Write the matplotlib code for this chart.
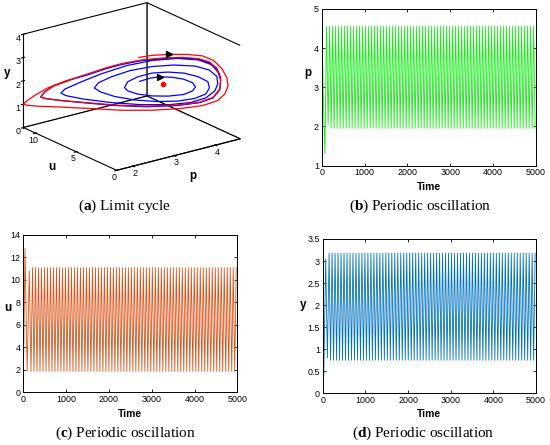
import matplotlib
matplotlib.use('Agg')
import matplotlib.pyplot as plt
import numpy as np

plt.rcParams['font.family'] = ['Liberation Sans', 'DejaVu Sans']
plt.rcParams['mathtext.fontset'] = 'custom'
plt.rcParams['mathtext.rm'] = 'Liberation Serif'
plt.rcParams['mathtext.bf'] = 'Liberation Serif:bold'

# ---------------- data: 3D phase portrait (p, u, y) ----------------
blue_p = [3.36, 3.51, 3.65, 3.83, 3.99, 4.12, 4.16, 4.12, 3.99, 3.77, 3.54, 3.33, 3.19, 3.14, 3.19, 3.33,
          3.54, 3.77, 4.00, 4.20, 4.34, 4.36, 4.31, 4.15, 3.90, 3.61, 3.29, 3.00, 2.80, 2.71, 2.77, 2.96,
          3.22, 3.54, 3.86, 4.16, 4.36, 4.47, 4.48, 4.44, 4.31, 4.09, 3.80, 3.39, 2.96, 2.55, 2.30, 2.23,
          2.29, 2.52, 2.81, 3.17, 3.54, 3.90, 4.20, 4.39, 4.49, 4.52, 4.51, 4.41, 4.22, 3.90, 3.46, 3.03,
          2.62, 2.23, 2.01, 1.94, 2.00, 2.13, 2.37, 2.62, 2.88, 3.10, 3.39, 3.68, 3.97, 4.20, 4.36, 4.47, 4.52]
blue_u = [6.09, 5.58, 5.07, 4.46, 3.90, 3.44, 3.28, 3.44, 3.90, 4.66, 5.48, 6.19, 6.71, 6.86, 6.71, 6.19,
          5.48, 4.66, 3.84, 3.13, 2.67, 2.57, 2.77, 3.33, 4.20, 5.22, 6.35, 7.37, 8.09, 8.39, 8.19, 7.52,
          6.60, 5.48, 4.36, 3.28, 2.57, 2.21, 2.16, 2.31, 2.77, 3.54, 4.56, 5.99, 7.52, 8.95, 9.82, 10.08,
          9.87, 9.06, 8.03, 6.76, 5.48, 4.20, 3.13, 2.46, 2.11, 2.00, 2.06, 2.41, 3.08, 4.20, 5.74, 7.27,
          8.70, 10.08, 10.85, 11.10, 10.90, 10.44, 9.57, 8.70, 7.78, 7.01, 5.99, 4.97, 3.95, 3.13, 2.57, 2.21, 2.00]
blue_y = [2.05, 2.20, 2.28, 2.27, 2.21, 2.07, 1.90, 1.72, 1.55, 1.46, 1.44, 1.50, 1.62, 1.76, 2.01, 2.24,
          2.42, 2.49, 2.47, 2.34, 2.14, 1.88, 1.61, 1.40, 1.26, 1.21, 1.24, 1.36, 1.53, 1.69, 1.92, 2.20,
          2.49, 2.70, 2.80, 2.79, 2.64, 2.37, 2.06, 1.76, 1.44, 1.22, 1.10, 1.05, 1.09, 1.20, 1.32, 1.42,
          1.60, 1.93, 2.31, 2.70, 2.96, 3.09, 3.06, 2.88, 2.54, 2.20, 1.81, 1.45, 1.23, 1.07, 0.97, 0.97,
          1.03, 1.10, 1.16, 1.22, 1.44, 1.72, 2.01, 2.25, 2.54, 2.74, 2.94, 3.06, 3.12, 3.10, 2.96, 2.72, 2.33]

red_p = [3.35, 3.54, 3.78, 4.04, 4.26, 4.42, 4.54, 4.61, 4.63, 4.58, 4.48, 4.26, 3.93, 3.54, 3.10, 2.67,
         2.23, 1.91, 1.65, 1.60, 1.65, 1.87, 2.04, 2.30, 2.62, 2.88, 3.10, 3.39, 3.68, 3.97, 4.20, 4.36,
         4.47, 4.52, 4.51, 4.41, 4.22, 3.90, 3.46, 3.03, 2.62, 2.23, 2.01, 1.94, 2.00, 2.13, 2.37]
red_u = [6.14, 5.48, 4.61, 3.69, 2.92, 2.36, 1.95, 1.70, 1.65, 1.80, 2.16, 2.92, 4.10, 5.48, 7.01, 8.55,
         10.08, 11.20, 11.40, 11.50, 11.40, 11.36, 10.74, 9.82, 8.70, 7.78, 7.01, 5.99, 4.97, 3.95, 3.13, 2.57,
         2.21, 2.00, 2.06, 2.41, 3.08, 4.20, 5.74, 7.27, 8.70, 10.08, 10.85, 11.10, 10.90, 10.44, 9.57]
red_y = [3.07, 3.18, 3.25, 3.28, 3.24, 3.06, 2.72, 2.34, 1.99, 1.64, 1.35, 1.11, 0.94, 0.83, 0.78, 0.80,
         0.82, 0.82, 0.95, 1.00, 1.12, 1.30, 1.62, 1.95, 2.29, 2.58, 2.78, 2.97, 3.08, 3.14, 3.12, 2.99,
         2.72, 2.29, 1.85, 1.47, 1.25, 1.09, 1.00, 0.99, 1.05, 1.10, 1.16, 1.22, 1.44, 1.72, 2.01]

eq_p, eq_u, eq_y = 3.70, 4.92, 1.98

# ---------------- data: time series ----------------
t_end = 5000
period = 70.0
p_trans_t = [0, 35, 75, 112, 150, 185]
p_trans_v = [4.80, 2.90, 1.30, 4.55, 2.05, 4.56]
p_hi, p_lo = 4.56, 1.95
u_trans_t = [0, 15, 40, 90, 140, 180]
u_trans_v = [0.90, 5.0, 12.8, 1.90, 10.8, 1.85]
u_hi, u_lo = 11.1, 1.85
y_trans_t = [0, 25, 70, 110, 150]
y_trans_v = [1.40, 0.40, 3.05, 0.80, 3.18]
y_hi, y_lo = 3.18, 0.75


def oscillation(tr_t, tr_v, hi, lo):
    t = list(tr_t)
    v = list(tr_v)
    cur = tr_t[-1]
    high_next = tr_v[-1] < (hi + lo) / 2
    while cur + period / 2 <= t_end:
        cur += period / 2
        t.append(cur)
        v.append(hi if high_next else lo)
        high_next = not high_next
    return np.array(t), np.array(v)


W, H = 550, 445
fig = plt.figure(figsize=(W / 100, H / 100), dpi=100)


def rect(l, t, r, b):
    return [l / W, 1 - b / H, (r - l) / W, (b - t) / H]


tick_fs = 6.4
lab_fs = 7.4

# ---------- (a) 3D ----------
ax3 = fig.add_axes(rect(-1.7, -40, 258.3, 220), projection='3d')
ax3.patch.set_alpha(0)
ax3.set_proj_type('ortho')
ax3.view_init(elev=20, azim=-126.7)
ax3.set_box_aspect((1.55, 1.57, 1.0), zoom=1.23 * 190 / 260)
ax3.plot(blue_p, blue_u, blue_y, color='#0000ff', lw=0.9)
ax3.plot(red_p, red_u, red_y, color='#ff0000', lw=0.9)
ax3.plot([eq_p], [eq_u], [eq_y], 'o', color='#ff0000', ms=3)
ax3.plot([red_p[2]], [red_u[2]], [red_y[2]], '>', color='black', ms=4)
ax3.plot([blue_p[2]], [blue_u[2]], [blue_y[2]], '>', color='black', ms=4)
ax3.set_xlim(1.6, 4.6)
ax3.set_ylim(0, 11.5)
ax3.set_zlim(0, 4)
ax3.set_xticks([2, 3, 4])
ax3.set_yticks([0, 5, 10])
ax3.set_zticks([0, 1, 2, 3, 4])
ax3.grid(False)
for a in (ax3.xaxis, ax3.yaxis, ax3.zaxis):
    a.set_pane_color((1, 1, 1, 1))
    a.pane.set_edgecolor('black')
    a.pane.set_linewidth(0.8)
    a.line.set_color('black')
    a.line.set_linewidth(0.8)
ax3.tick_params(labelsize=tick_fs, pad=-6)
ax3.zaxis.set_tick_params(pad=-5.5)
ax3.set_xlabel('p', fontsize=lab_fs + 1, fontweight='bold', labelpad=-6)
ax3.set_ylabel('u', fontsize=lab_fs + 1, fontweight='bold', labelpad=-7)
ax3.text2D(7 / W, 1 - 73 / H, 'y', transform=fig.transFigure, fontsize=lab_fs + 1,
           fontweight='bold', ha='center', va='center')

# ---------- time series panels ----------
def ts_panel(r, t, v, color, ylim, yticks, yticklabels, ylabel, ylab_pos):
    ax = fig.add_axes(r)
    ax.plot(t, v, color=color, lw=0.6)
    ax.set_xlim(0, 5000)
    ax.set_ylim(*ylim)
    ax.set_xticks([0, 1000, 2000, 3000, 4000, 5000])
    ax.set_yticks(yticks)
    ax.set_yticklabels(yticklabels)
    ax.tick_params(direction='in', top=True, right=True, length=2.5, width=0.6,
                   labelsize=tick_fs, pad=2)
    for s in ax.spines.values():
        s.set_linewidth(0.7)
    ax.set_xlabel('Time', fontsize=lab_fs, fontweight='bold')
    ax.xaxis.set_label_coords(0.5, -0.135)
    ax.xaxis.label.set_va('center')
    ax.set_ylabel(ylabel, fontsize=lab_fs + 1, fontweight='bold', rotation=0)
    ax.yaxis.set_label_coords(*ylab_pos)
    ax.yaxis.label.set_va('center')
    ax.yaxis.label.set_ha('center')
    return ax

tp, vp = oscillation(p_trans_t, p_trans_v, p_hi, p_lo)
tu, vu = oscillation(u_trans_t, u_trans_v, u_hi, u_lo)
ty, vy = oscillation(y_trans_t, y_trans_v, y_hi, y_lo)

ts_panel(rect(321.7, 9, 536, 165.5), tp, vp, '#11ee11', (1, 5), [1, 2, 3, 4, 5],
         ['1', '2', '3', '4', '5'], 'p', (-0.064, 0.59))
ts_panel(rect(23.3, 235, 237.3, 392.3), tu, vu, '#D95319', (0, 14), [0, 2, 4, 6, 8, 10, 12, 14],
         ['0', '2', '4', '6', '8', '10', '12', '14'], 'u', (-0.07, 0.536))
ts_panel(rect(322.7, 239, 536, 393.3), ty, vy, '#0072BD', (0, 3.5), [0, 0.5, 1, 1.5, 2, 2.5, 3, 3.5],
         ['0', '0.5', '1', '1.5', '2', '2.5', '3', '3.5'], 'y', (-0.091, 0.572))

# ---------- captions ----------
cap_fs = 11
caps = [(124, 206, r'($\mathbf{a}$) Limit cycle'),
        (420, 206, r'($\mathbf{b}$) Periodic oscillation'),
        (125, 433, r'($\mathbf{c}$) Periodic oscillation'),
        (423, 433, r'($\mathbf{d}$) Periodic oscillation')]
for x, y, s in caps:
    fig.text(x / W, 1 - y / H, s, ha='center', va='center', fontsize=cap_fs,
             family='Liberation Serif')

fig.savefig('out.png', dpi=100)
